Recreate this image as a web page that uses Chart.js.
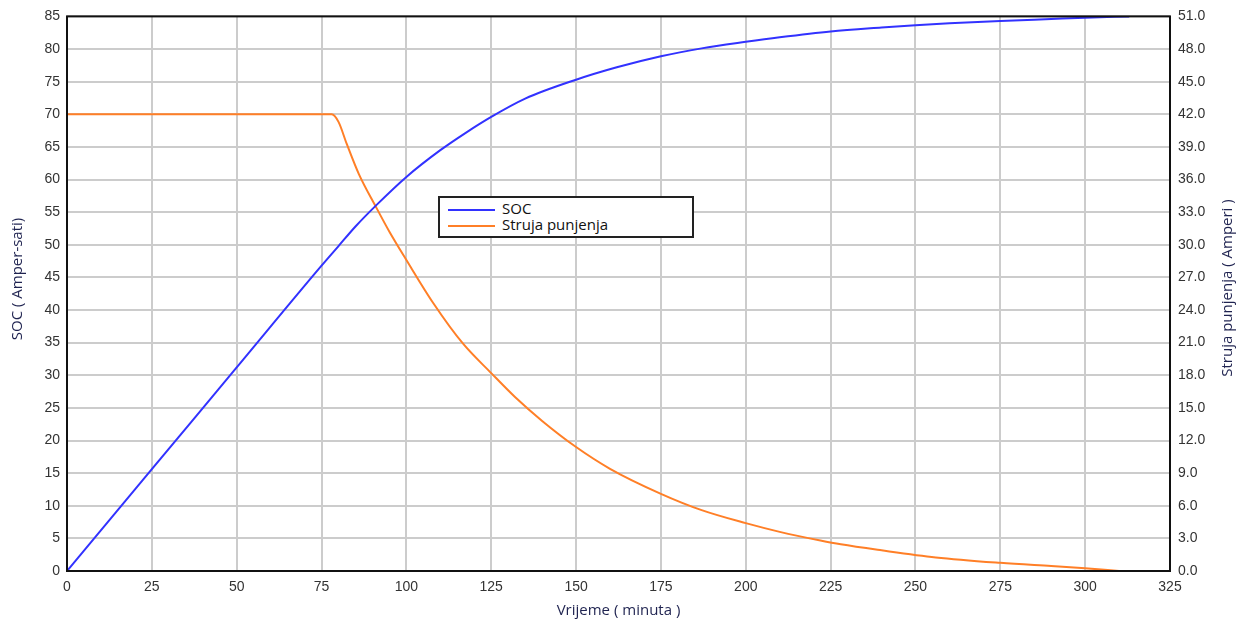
<!DOCTYPE html>
<html>
<head>
<meta charset="utf-8">
<script src="https://cdn.jsdelivr.net/npm/chart.js@4.4.0/dist/chart.umd.min.js"></script>
<style>
  html, body { margin: 0; padding: 0; background: #fff; }
  #wrap { position: relative; width: 1244px; height: 623px; }
  #legend {
    position: absolute; left: 438px; top: 196px; width: 252px; height: 38px;
    border: 2px solid #222; background: #fff;
    font-family: "Open Sans", sans-serif; font-size: 15px; color: #111;
  }
  #legend .row { position: absolute; left: 8px; height: 17px; line-height: 17px; white-space: nowrap; }
  #legend .sw { display: inline-block; width: 47px; height: 2px; vertical-align: middle; margin-right: 7px; }
</style>
</head>
<body>
<div id="wrap">
  <canvas id="myChart" width="1244" height="623"></canvas>
  <div id="legend">
    <div class="row" style="top:2px"><span class="sw" style="background:rgb(50,50,255)"></span>SOC</div>
    <div class="row" style="top:18px"><span class="sw" style="background:rgb(255,127,39)"></span>Struja punjenja</div>
  </div>
</div>
<script>
// SOC (Amper-sati) vs time (minutes)
const socTime = [0, 25, 50, 75, 80, 85, 91, 100, 110, 117.6, 125, 135, 150, 162, 175, 187, 200, 210, 225, 240, 250, 260, 275, 290, 300, 313];
const socValue = [0, 15.6, 31.2, 46.8, 49.8, 52.8, 56.0, 60.4, 64.5, 67.2, 69.6, 72.4, 75.3, 77.2, 78.9, 80.1, 81.1, 81.8, 82.7, 83.3, 83.65, 83.95, 84.3, 84.6, 84.8, 85.0];

// Struja punjenja (Amperi) vs time (minutes)
const currTime = [0, 78, 80, 82.4, 86, 91, 95, 100, 108, 116.7, 125, 132, 140, 150, 160, 175, 187, 200, 210, 222, 228, 240, 256, 275, 290, 300, 310];
const currValue = [42, 42, 41.3, 39.3, 36.5, 33.5, 31.2, 28.6, 24.6, 20.9, 18.2, 16.0, 13.8, 11.4, 9.4, 7.1, 5.6, 4.4, 3.6, 2.8, 2.45, 1.9, 1.25, 0.75, 0.45, 0.25, 0];

const xTicks = { min: 0, max: 325, step: 25 };
const socTicks = { min: 0, max: 85, step: 5 };
const currTicks = { min: 0, max: 51, step: 3 };

const socTitle = "SOC ( Amper-sati)";
const currTitle = "Struja punjenja ( Amperi )";

const socData = socTime.map((t, i) => ({ x: t, y: socValue[i] }));
const currData = currTime.map((t, i) => ({ x: t, y: currValue[i] }));

const tickFont = { family: "'Liberation Sans', Arial, sans-serif", size: 14 };
const titleFont = { family: "'Open Sans', sans-serif", size: 15 };
const titleColor = "#1f2350";

// black frame round the plot + both y titles reading upwards
const frame = {
  id: "frame",
  afterDraw(chart) {
    const { ctx, chartArea: a } = chart;
    ctx.save();
    ctx.strokeStyle = "#111";
    ctx.lineWidth = 2;
    ctx.strokeRect(a.left, a.top, a.right - a.left, a.bottom - a.top);
    ctx.fillStyle = titleColor;
    ctx.font = "15px 'Open Sans', sans-serif";
    ctx.textAlign = "center";
    ctx.textBaseline = "middle";
    [[socTitle, 18, 279], [currTitle, 1228, 288]].forEach(([txt, x, y]) => {
      ctx.save();
      ctx.translate(x, y);
      ctx.rotate(-Math.PI / 2);
      ctx.fillText(txt, 0, 0);
      ctx.restore();
    });
    ctx.restore();
  },
};

const ctx = document.getElementById("myChart").getContext("2d");
new Chart(ctx, {
  type: "line",
  data: {
    datasets: [
      {
        label: "SOC",
        data: socData,
        yAxisID: "y",
        borderColor: "rgb(50,50,255)",
        borderWidth: 2,
        pointRadius: 0,
        cubicInterpolationMode: "monotone",
      },
      {
        label: "Struja punjenja",
        data: currData,
        yAxisID: "y1",
        borderColor: "rgb(255,127,39)",
        borderWidth: 2,
        pointRadius: 0,
        cubicInterpolationMode: "monotone",
      },
    ],
  },
  options: {
    responsive: false,
    animation: false,
    layout: { padding: { top: 16, left: 0, right: 0, bottom: 0 } },
    plugins: { legend: { display: false }, tooltip: { enabled: false } },
    scales: {
      x: {
        type: "linear",
        min: xTicks.min,
        max: xTicks.max,
        ticks: { stepSize: xTicks.step, font: tickFont, color: "#333", padding: 8, maxRotation: 0 },
        grid: { color: "#cccccc", lineWidth: 2, drawTicks: false },
        border: { display: false },
        title: { display: true, text: "Vrijeme ( minuta )", font: titleFont, color: titleColor, padding: { top: 0, bottom: 3 } },
        afterFit: (s) => { s.height = 52; },
      },
      y: {
        position: "left",
        min: socTicks.min,
        max: socTicks.max,
        ticks: { stepSize: socTicks.step, font: tickFont, color: "#333", padding: 7 },
        grid: { color: "#cccccc", lineWidth: 2, drawTicks: false },
        border: { display: false },
        afterFit: (s) => { s.width = 67; },
      },
      y1: {
        position: "right",
        min: currTicks.min,
        max: currTicks.max,
        ticks: { stepSize: currTicks.step, font: tickFont, color: "#333", padding: 8, callback: (v) => v.toFixed(1) },
        grid: { drawOnChartArea: false, drawTicks: false },
        border: { display: false },
        afterFit: (s) => { s.width = 74; },
      },
    },
  },
  plugins: [frame],
});
</script>
</body>
</html>
